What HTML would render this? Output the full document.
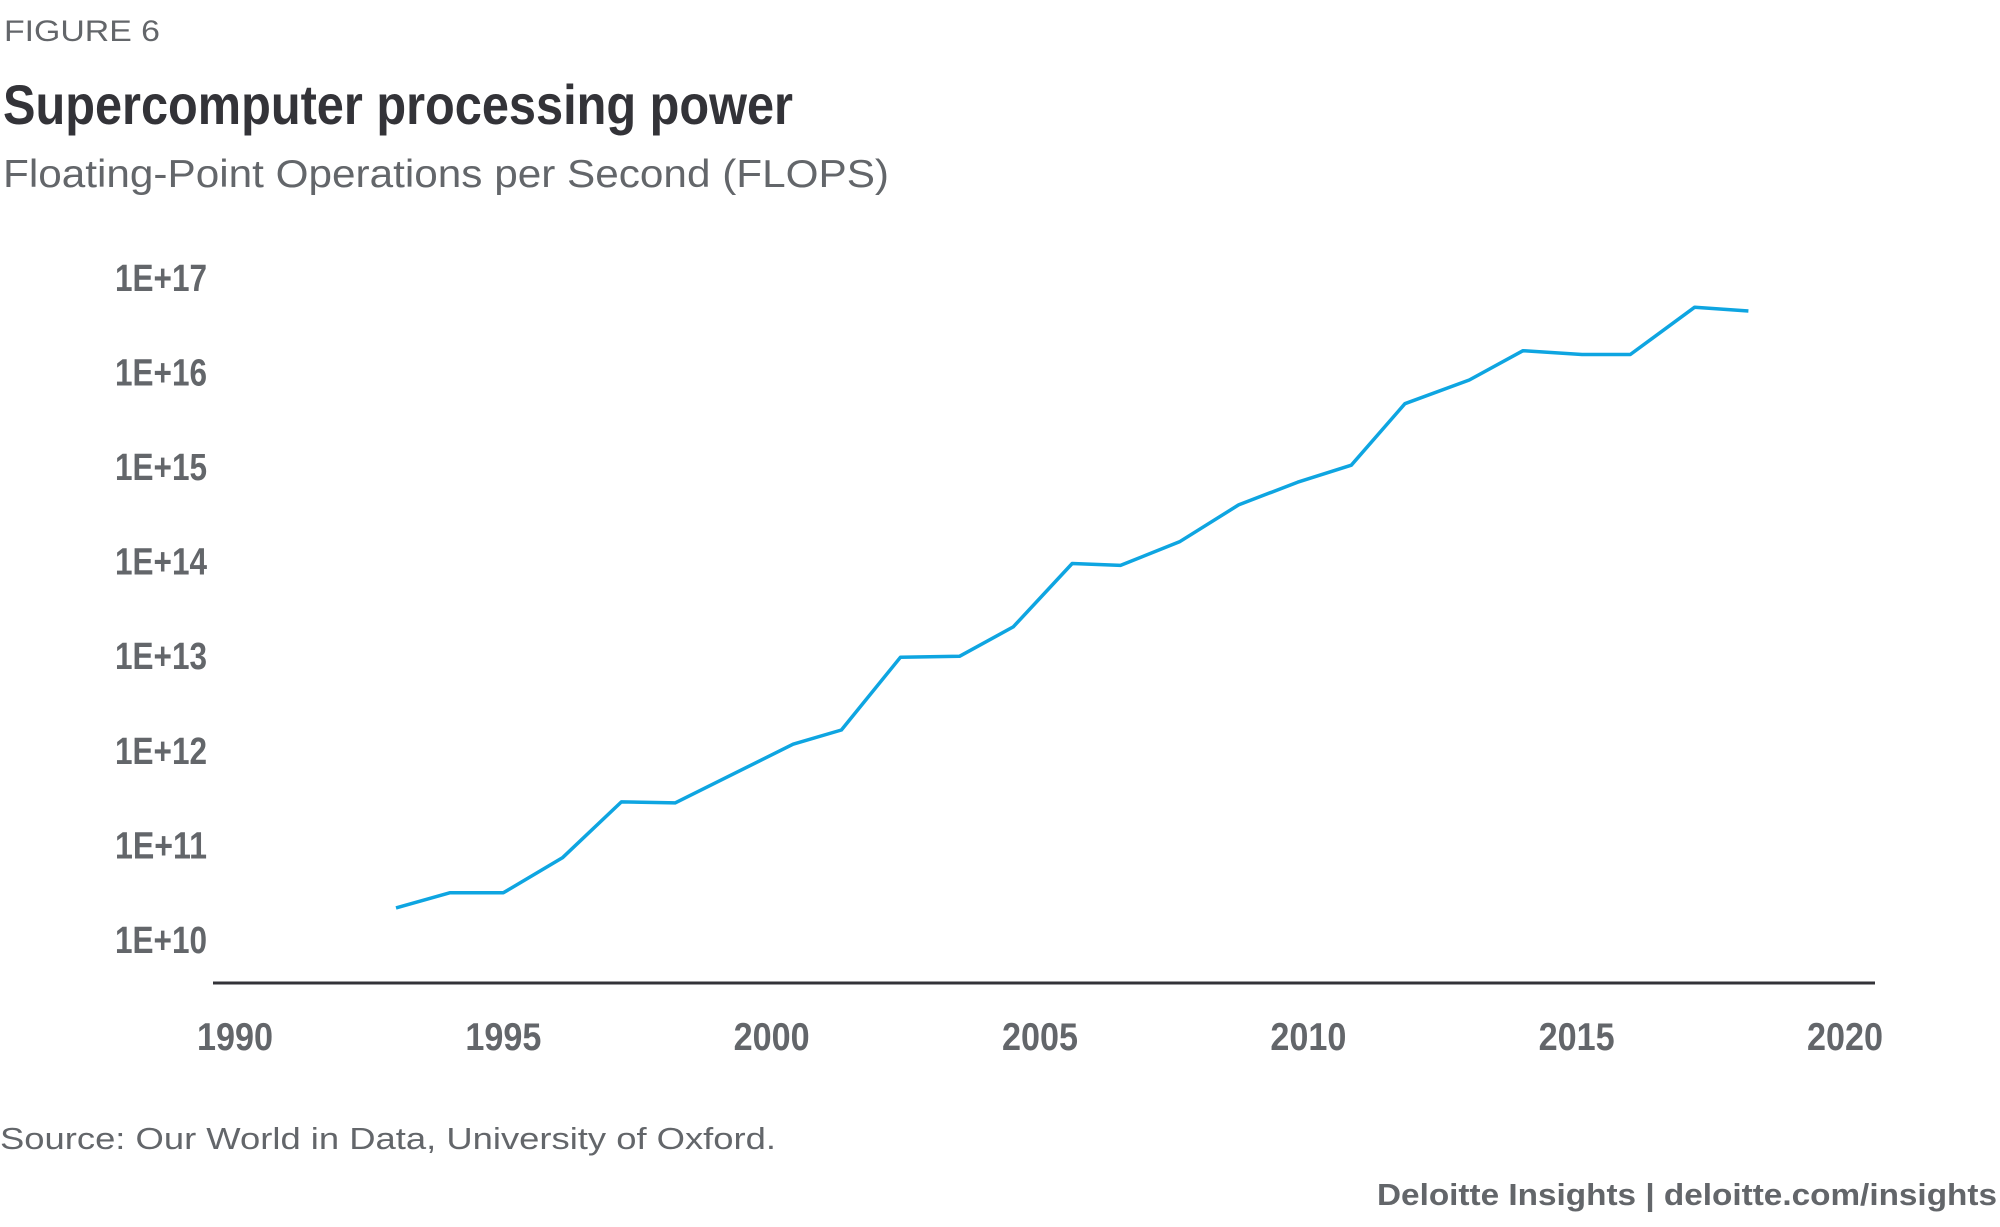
<!DOCTYPE html>
<html><head><meta charset="utf-8"><style>
html,body{margin:0;padding:0;background:#fff}
svg{display:block}
text{font-family:"Liberation Sans",sans-serif}
</style></head><body>
<svg id="chart" width="2000" height="1227" viewBox="0 0 2000 1227">
<text x="4" y="41" font-size="30" fill="#63666a" textLength="156" lengthAdjust="spacingAndGlyphs">FIGURE 6</text>
<text x="3" y="124" font-size="56" font-weight="bold" fill="#333338" textLength="790" lengthAdjust="spacingAndGlyphs">Supercomputer processing power</text>
<text x="3" y="187" font-size="39" fill="#63666a" textLength="886" lengthAdjust="spacingAndGlyphs">Floating-Point Operations per Second (FLOPS)</text>
<g id="yticks"></g>
<g id="xticks"></g>
<line x1="213" y1="983" x2="1875" y2="983" stroke="#333338" stroke-width="3"/>
<path id="series" fill="none" stroke="#0ea5e1" stroke-width="3.5" stroke-linejoin="round"/>
<text x="0" y="1149" font-size="31" fill="#63666a" textLength="776" lengthAdjust="spacingAndGlyphs">Source: Our World in Data, University of Oxford.</text>
<text x="1997" y="1205" font-size="31" font-weight="bold" fill="#63666a" text-anchor="end" textLength="620" lengthAdjust="spacingAndGlyphs">Deloitte Insights | deloitte.com/insights</text>
</svg>
<script>
const years = [1993,1994,1995,1996.1,1997.2,1998.2,1999.3,2000.4,2001.3,2002.4,2003.5,2004.5,2005.6,2006.5,2007.6,2008.7,2009.8,2010.8,2011.8,2013,2014,2015.1,2016,2017.2,2018.2];
const logFlops = [10.35,10.51,10.51,10.88,11.47,11.46,11.77,12.08,12.23,13.0,13.01,13.32,13.99,13.97,14.22,14.61,14.85,15.03,15.68,15.93,16.24,16.2,16.2,16.7,16.66];
const yTicks = [10,11,12,13,14,15,16,17];
const yTickLabels = ["1E+10","1E+11","1E+12","1E+13","1E+14","1E+15","1E+16","1E+17"];
const xTicks = [1990,1995,2000,2005,2010,2015,2020];

const xScale = y => 235 + (y - 1990) * (1845 - 235) / 30;
const yScale = v => 941 - (v - 10) * 94.6;
const NS = "http://www.w3.org/2000/svg";

const yg = document.getElementById('yticks');
yTicks.forEach((t,i) => {
  const el = document.createElementNS(NS,'text');
  el.setAttribute('x', 207);
  el.setAttribute('y', yScale(t) + 12);
  el.setAttribute('text-anchor','end');
  el.setAttribute('font-size','38');
  el.setAttribute('font-weight','bold');
  el.setAttribute('fill','#63666a');
  el.setAttribute('textLength','92');
  el.setAttribute('lengthAdjust','spacingAndGlyphs');
  
  
  el.textContent = yTickLabels[i];
  yg.appendChild(el);
});
const xg = document.getElementById('xticks');
xTicks.forEach(t => {
  const el = document.createElementNS(NS,'text');
  el.setAttribute('x', xScale(t));
  el.setAttribute('y', 1050);
  el.setAttribute('text-anchor','middle');
  el.setAttribute('font-size','39');
  el.setAttribute('font-weight','bold');
  el.setAttribute('fill','#63666a');
  el.setAttribute('textLength','76');
  el.setAttribute('lengthAdjust','spacingAndGlyphs');
  
  
  el.textContent = t;
  xg.appendChild(el);
});
document.getElementById('series').setAttribute('d',
  years.map((y,i) => (i ? 'L' : 'M') + xScale(y).toFixed(1) + ',' + yScale(logFlops[i]).toFixed(1)).join(' '));
</script>
</body></html>
